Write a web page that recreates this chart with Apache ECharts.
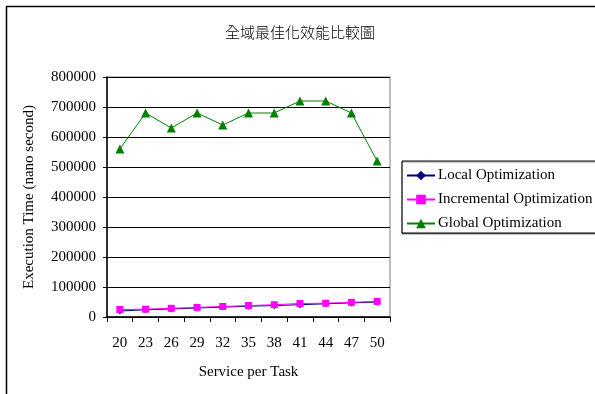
<!DOCTYPE html>
<html>
<head>
<meta charset="utf-8">
<script src="https://cdn.jsdelivr.net/npm/echarts@6/dist/echarts.min.js"></script>
<style>
  html, body { margin: 0; padding: 0; background: #fff; }
  #chart { width: 595px; height: 394px; }
</style>
</head>
<body>
<div id="chart"></div>
<script>
// Services per task (x categories)
const categories = ['20', '23', '26', '29', '32', '35', '38', '41', '44', '47', '50'];

// Execution time in nanoseconds
const localOpt = [20000, 24000, 27000, 30000, 33000, 36000, 38000, 41000, 44000, 47000, 50000];
const incrementalOpt = [25000, 26000, 29000, 32000, 35000, 38000, 41000, 45000, 46000, 49000, 52000];
const globalOpt = [560000, 680000, 630000, 680000, 640000, 680000, 680000, 720000, 720000, 680000, 520000];

const seriesNames = ['Local Optimization', 'Incremental Optimization', 'Global Optimization'];

const serif = '"Liberation Serif", "DejaVu Serif", serif';

const chart = echarts.init(document.getElementById('chart'));

chart.setOption({
  animation: false,
  backgroundColor: '#fff',
  title: {
    text: '全域最佳化效能比較圖',
    left: 220,
    top: 20,
    textStyle: {
      fontFamily: '"Noto Sans CJK TC", "Noto Sans CJK SC", sans-serif',
      fontSize: 15,
      fontWeight: 300,
      color: '#000'
    }
  },
  graphic: [{
    type: 'rect',
    shape: { x: 6.5, y: 6.5, width: 620, height: 420 },
    style: { fill: 'none', stroke: '#000', lineWidth: 1.5 },
    silent: true
  }],
  legend: {
    orient: 'vertical',
    left: 402,
    top: 161,
    width: 190,
    padding: [7, 8, 2, 4],
    itemGap: 9,
    itemWidth: 28,
    itemHeight: 12,
    backgroundColor: '#fff',
    borderColor: '#000',
    borderWidth: 1,
    shadowColor: 'rgba(0,0,0,0.45)',
    shadowOffsetX: 0,
    shadowOffsetY: 1,
    shadowBlur: 0,
    textStyle: { fontFamily: serif, fontSize: 15, color: '#000', padding: [0, 0, 0, -2] },
    data: seriesNames
  },
  grid: {
    left: 107,
    top: 77,
    width: 283,
    height: 240,
    show: true,
    borderColor: '#808080',
    borderWidth: 1
  },
  xAxis: {
    type: 'category',
    data: categories,
    boundaryGap: true,
    name: 'Service per Task',
    nameLocation: 'middle',
    nameGap: 48,
    nameTextStyle: { fontFamily: serif, fontSize: 15, color: '#000' },
    axisLine: { lineStyle: { color: '#000', width: 1.5 } },
    axisTick: { show: true, alignWithLabel: false, length: 5, lineStyle: { color: '#000' } },
    axisLabel: { fontFamily: serif, fontSize: 15, color: '#000', margin: 19, interval: 0 },
    splitLine: { show: false }
  },
  yAxis: {
    type: 'value',
    min: 0,
    max: 800000,
    interval: 100000,
    name: 'Execution Time (nano second)',
    nameLocation: 'middle',
    nameGap: 70,
    nameTextStyle: { fontFamily: serif, fontSize: 15, color: '#000' },
    axisLine: { show: true, lineStyle: { color: '#000', width: 1.5 } },
    axisTick: { show: true, length: 4, lineStyle: { color: '#000' } },
    axisLabel: {
      fontFamily: serif, fontSize: 15, color: '#000', margin: 11,
      formatter: function (v) { return String(v); }
    },
    splitLine: { show: true, lineStyle: { color: '#000', width: 1 } }
  },
  series: [
    {
      name: seriesNames[0],
      type: 'line',
      data: localOpt,
      symbol: 'diamond',
      symbolSize: 7,
      itemStyle: { color: '#000080' },
      lineStyle: { color: '#000080', width: 1 }
    },
    {
      name: seriesNames[1],
      type: 'line',
      data: incrementalOpt,
      symbol: 'rect',
      symbolSize: 7,
      itemStyle: { color: '#FF00FF' },
      lineStyle: { color: '#FF00FF', width: 1 }
    },
    {
      name: seriesNames[2],
      type: 'line',
      data: globalOpt,
      symbol: 'triangle',
      symbolSize: 9,
      itemStyle: { color: '#008000' },
      lineStyle: { color: '#008000', width: 1 }
    }
  ]
});
</script>
</body>
</html>
